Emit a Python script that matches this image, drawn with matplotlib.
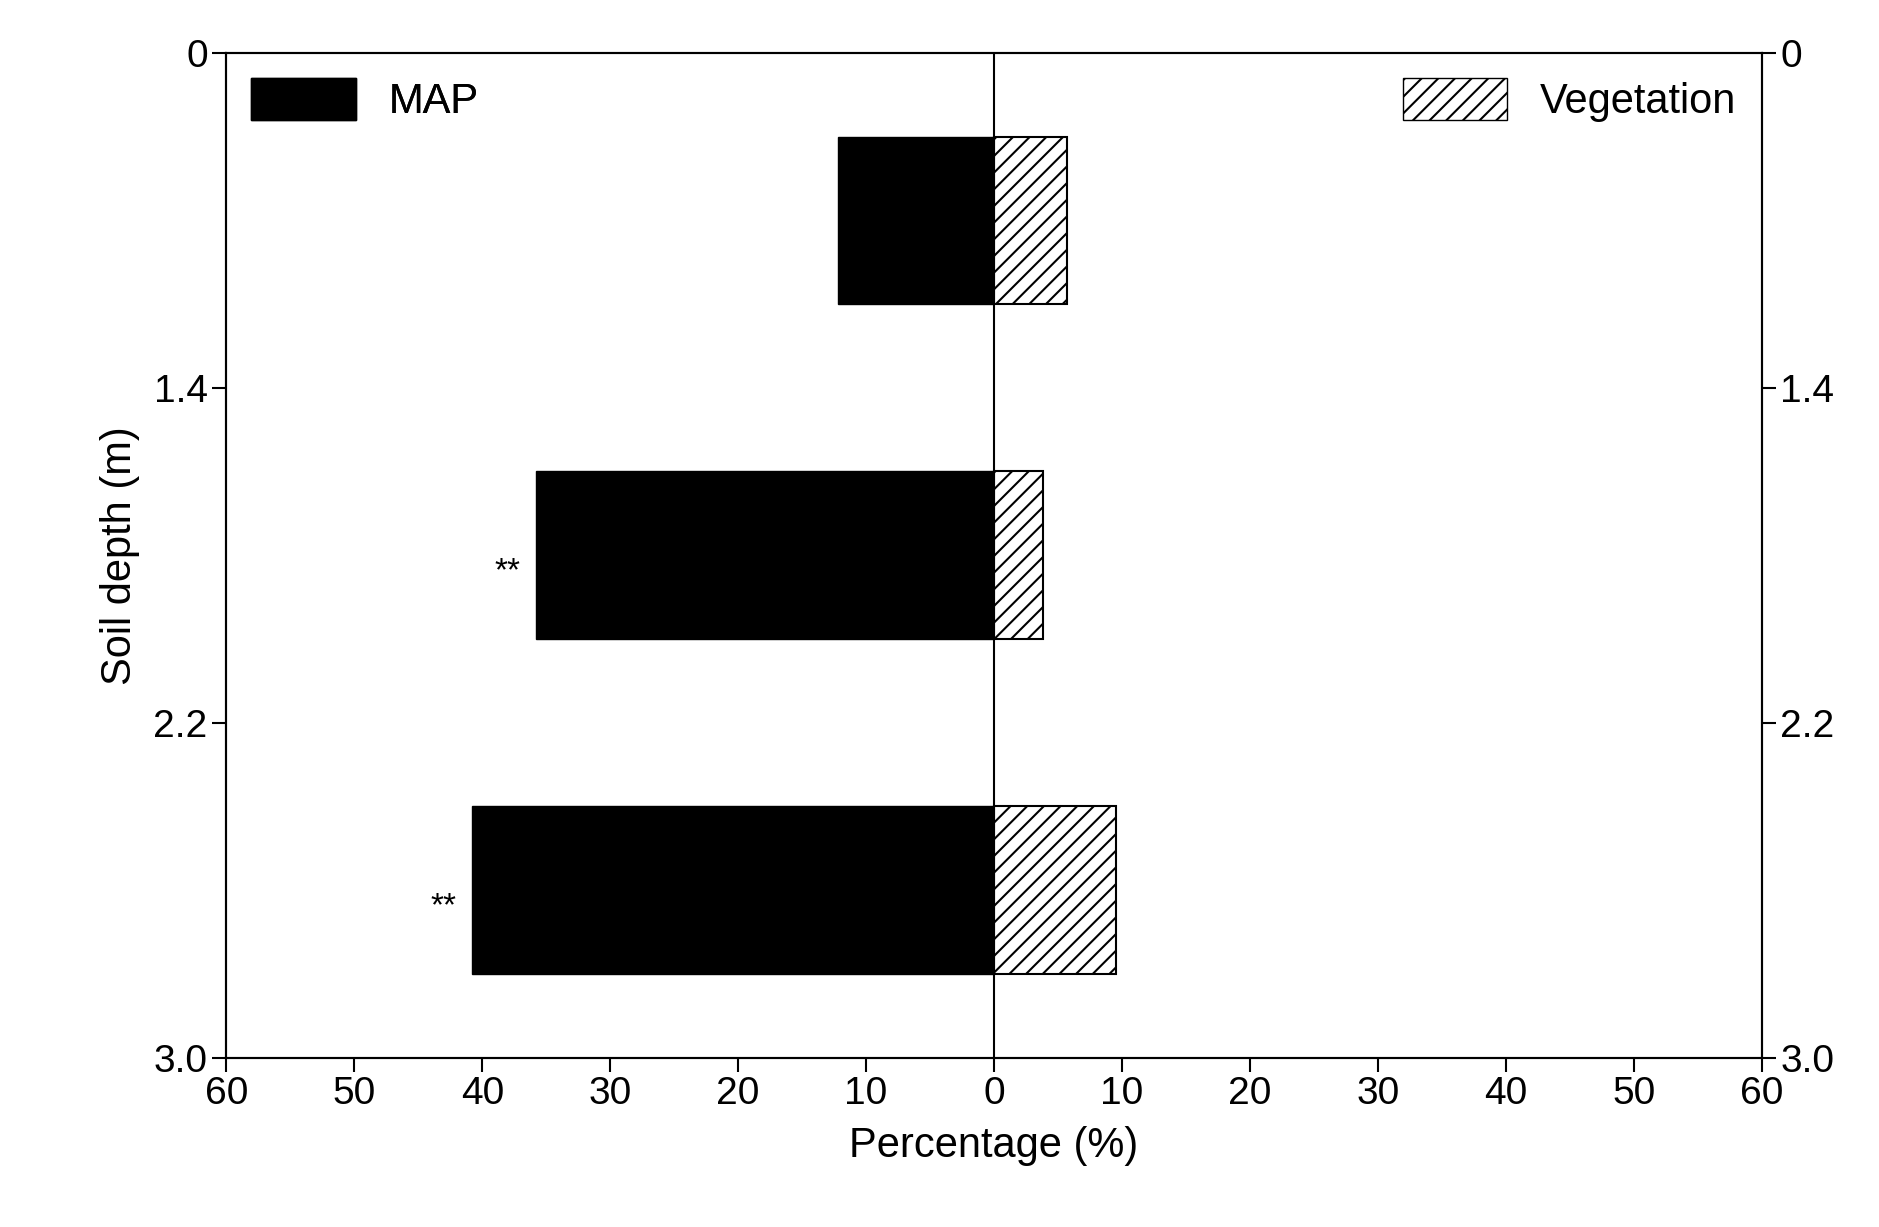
import matplotlib
matplotlib.use("Agg")
import matplotlib.pyplot as plt
from matplotlib.patches import Patch

depth_labels = ["0", "1.4", "2.2", "3.0"]
map_vals = [12.2, 35.8, 40.8]
veg_vals = [5.7, 3.8, 9.5]
sig = ["", "**", "**"]
xticks = [-60, -50, -40, -30, -20, -10, 0, 10, 20, 30, 40, 50, 60]

plt.rcParams["font.family"] = "Liberation Sans"
plt.rcParams["hatch.linewidth"] = 1.5
fig = plt.figure(figsize=(18.79, 12.27), dpi=100)
ax = fig.add_axes([0.1205, 0.138, 0.817, 0.819])
ypos = [0.5, 1.5, 2.5]
ax.barh(ypos, [-v for v in map_vals], height=0.5, color="black", edgecolor="black")
ax.barh(ypos, veg_vals, height=0.5, color="white", edgecolor="black", hatch="//", linewidth=1.5)
for y, v, s in zip(ypos, map_vals, sig):
    if s:
        ax.text(-v - 1.2, y + 0.05, s, ha="right", va="center", fontsize=24)
ax.axvline(0, color="black", linewidth=1.5)
ax.set_xlim(-60, 60)
ax.set_ylim(3, 0)
ax.set_xticks(xticks)
ax.set_xticklabels([str(abs(t)) for t in xticks])
ax.set_yticks([0, 1, 2, 3])
ax.set_yticklabels(depth_labels)
ax.tick_params(labelsize=28, width=1.5, length=10, direction="out")
ax2 = ax.twinx()
ax2.set_ylim(3, 0)
ax2.set_yticks([0, 1, 2, 3])
ax2.set_yticklabels(depth_labels)
ax2.tick_params(labelsize=28, width=1.5, length=10)
for a in (ax, ax2):
    for sp in a.spines.values():
        sp.set_linewidth(1.5)
ax.set_xlabel("Percentage (%)", fontsize=30, labelpad=10)
ax.set_ylabel("Soil depth (m)", fontsize=30, labelpad=10)
l1 = ax.legend(handles=[Patch(facecolor="black", edgecolor="black", label="MAP")],
               loc="upper left", frameon=False, fontsize=30, handlelength=2.5, handleheight=1.2,
               borderaxespad=0.2)
ax.add_artist(l1)
ax2.legend(handles=[Patch(facecolor="white", edgecolor="black", hatch="//", label="Vegetation")],
           loc="upper right", frameon=False, fontsize=30, handlelength=2.5, handleheight=1.2,
           borderaxespad=0.2)
fig.savefig("out.png", dpi=100)
